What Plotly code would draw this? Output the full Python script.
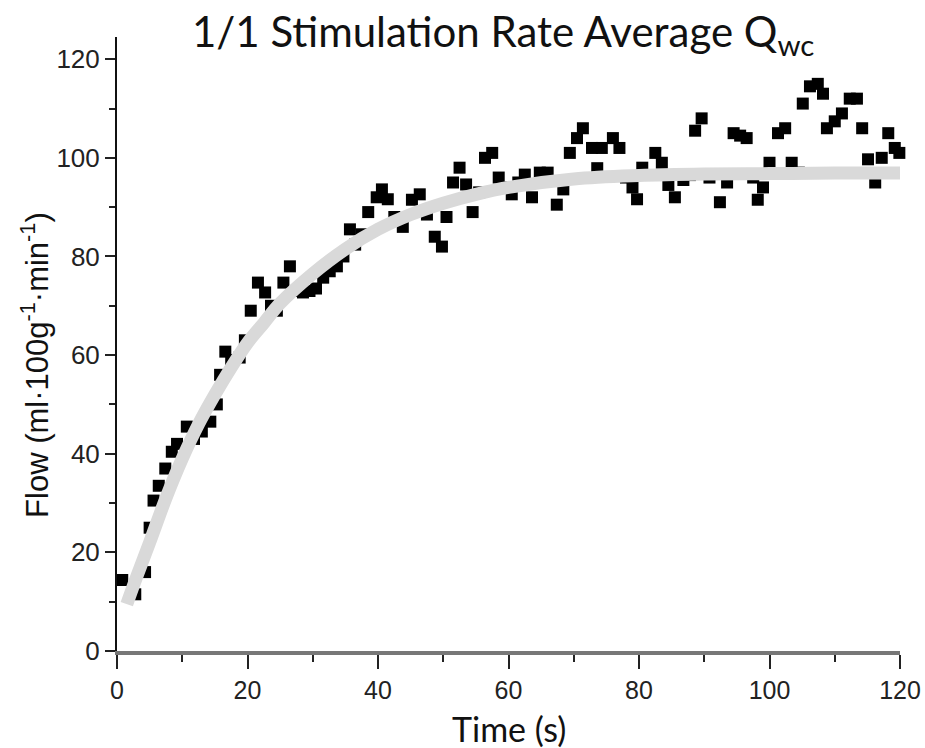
import plotly.graph_objects as go

time_s = [0.8, 2.8, 4.3, 5.0, 5.6, 6.4, 7.4, 8.4, 9.2, 10.7, 11.8, 13.0, 14.3, 15.3, 15.8,
          16.6, 17.5, 18.8, 19.6, 20.5, 21.6, 22.7, 23.6, 24.5, 25.5, 26.5, 27.6, 28.5, 29.5,
          30.5, 31.6, 32.6, 33.7, 34.7, 35.7, 36.5, 37.5, 38.5, 39.8, 40.6, 41.5, 42.5, 43.8,
          45.2, 46.4, 47.5, 48.7, 49.8, 50.5, 51.5, 52.5, 53.5, 54.5, 55.5, 56.4, 57.5, 58.5,
          59.5, 60.5, 61.5, 62.5, 63.6, 64.8, 66.0, 67.4, 68.4, 69.4, 70.5, 71.4, 72.8, 73.6,
          74.3, 76.0, 77.0, 78.0, 79.0, 79.7, 80.5, 82.5, 83.5, 84.5, 85.5, 86.8, 87.8, 88.6,
          89.6, 90.8, 92.4, 93.5, 94.5, 95.5, 96.5, 97.5, 98.2, 99.0, 100.0, 101.3, 102.4, 103.4,
          104.5, 105.1, 106.2, 107.4, 108.2, 108.8, 110.0, 111.1, 112.3, 113.4, 114.2, 115.1,
          116.2, 117.2, 118.2, 119.2, 119.9]
flow = [14.4, 11.5, 16.0, 25.0, 30.5, 33.5, 37.0, 40.4, 42.0, 45.5, 43.0, 44.5, 46.5, 50.0, 56.0,
        60.7, 59.0, 59.5, 63.0, 69.0, 74.7, 72.7, 70.0, 69.0, 74.7, 78.0, 73.0, 72.7, 73.0,
        73.5, 75.7, 77.0, 78.0, 80.0, 85.5, 82.4, 84.5, 89.0, 92.0, 93.6, 91.6, 88.0, 86.0,
        91.5, 92.6, 88.5, 84.0, 82.0, 88.0, 95.0, 98.0, 94.6, 89.0, 93.0, 100.0, 101.0, 96.0,
        94.0, 92.6, 95.0, 96.6, 92.0, 97.0, 97.0, 90.5, 93.6, 101.0, 104.0, 106.0, 102.0, 97.9,
        102.0, 104.0, 102.0, 96.0, 94.0, 91.6, 98.0, 101.0, 99.0, 94.5, 92.0, 95.5, 96.5, 105.5,
        108.0, 96.0, 91.0, 95.0, 105.0, 104.5, 104.0, 96.0, 91.5, 94.0, 99.0, 105.0, 106.0, 99.0,
        97.0, 111.0, 114.5, 115.0, 113.0, 106.0, 107.4, 109.0, 112.0, 112.0, 106.0, 99.7,
        95.0, 100.0, 105.0, 102.0, 101.0]

# exponential fit curve, sampled from the grey band
fit_t = [1.5, 3, 5, 7.5, 10, 12.5, 15, 17.5, 20, 22.5, 25, 30, 35, 40, 45, 50, 55, 60,
         70, 80, 90, 100, 110, 120]
fit_y = [9.5, 15, 22, 31, 39, 46, 52, 57.5, 62.5, 66.5, 70.5, 76.5, 81.5, 85.5, 88.5, 90.8,
         92.6, 94, 95.7, 96.4, 96.7, 96.8, 96.9, 96.9]

x_ticks = [0, 20, 40, 60, 80, 100, 120]
y_ticks = [0, 20, 40, 60, 80, 100, 120]

fig = go.Figure()
fig.add_trace(go.Scatter(x=time_s, y=flow, mode="markers",
                         marker=dict(symbol="square", size=12, color="black", line=dict(width=0)),
                         cliponaxis=False, showlegend=False))
fig.add_trace(go.Scatter(x=fit_t, y=fit_y, mode="lines", line_shape="spline",
                         line=dict(color="#d9d9d9", width=13), showlegend=False))

fig.update_layout(
    width=925, height=748,
    margin=dict(l=117, r=25, t=37, b=97, autoexpand=False),
    plot_bgcolor="white", paper_bgcolor="white",
    title=dict(text="1/1 Stimulation Rate Average Q<sub>wc</sub>",
               font=dict(family="Lato", size=42, color="#111"),
               x=0.544, xanchor="center", yref="container", y=0.957, yanchor="middle"),
    annotations=[
        dict(text="Flow (ml·100g<sup>-1</sup>·min<sup>-1</sup>)", textangle=-90,
             xref="paper", yref="paper", x=0, y=0.466, xshift=-82,
             xanchor="center", yanchor="middle", showarrow=False,
             font=dict(family="Liberation Sans", size=31, color="#111")),
        dict(text="Time (s)", xref="paper", yref="paper", x=0.5, y=0, yshift=-77,
             xanchor="center", yanchor="middle", showarrow=False,
             font=dict(family="Lato", size=34, color="#111")),
    ],
)
fig.update_xaxes(range=[0, 120], tickvals=x_ticks, showgrid=False, zeroline=False,
                 automargin=False,
                 showline=True, linecolor="#777", linewidth=4,
                 ticks="outside", ticklen=14, tickwidth=2, tickcolor="#222",
                 minor=dict(dtick=10, ticks="outside", ticklen=7, tickwidth=2, tickcolor="#222"),
                 tickfont=dict(family="Liberation Sans", size=25, color="#222"))
fig.update_yaxes(range=[0, 124.5], tickvals=y_ticks, showgrid=False, zeroline=False,
                 automargin=False,
                 showline=True, linecolor="#111", linewidth=2,
                 ticks="outside", ticklen=10, tickwidth=2, tickcolor="#222",
                 minor=dict(dtick=10, ticks="outside", ticklen=6, tickwidth=2, tickcolor="#222"),
                 tickfont=dict(family="Liberation Sans", size=26, color="#222"))

# drop the default 8px body margin so the figure fills the window exactly
fig.write_html("out.html", config={"displayModeBar": False},
               post_script="document.body.style.margin='0';"
                           "document.body.style.overflow='hidden';")
